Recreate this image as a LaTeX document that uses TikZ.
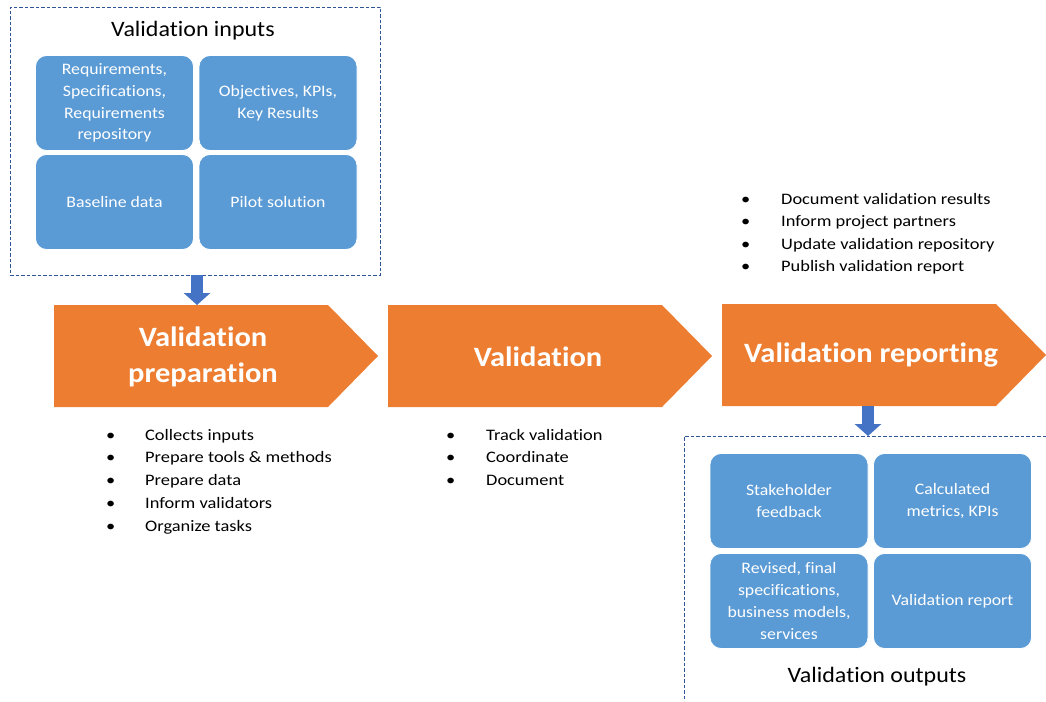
\documentclass[tikz,border=0pt]{standalone}
\usepackage{fontspec}
\setmainfont{Carlito}[Ligatures=NoCommon]
\newfontfamily\listfont{Carlito}[Ligatures=NoCommon, FakeStretch=1.15]
\newfontfamily\tilefont{Carlito}[Ligatures=NoCommon, FakeStretch=1.11]
\newfontfamily\headfont{Carlito}[Ligatures=NoCommon, FakeStretch=1.09]
\newfontfamily\stagefont{Carlito}[Ligatures=NoCommon, FakeStretch=1.09]
\usetikzlibrary{arrows.meta}
\definecolor{stageorange}{HTML}{ED7D31}
\definecolor{tileblue}{HTML}{5B9BD5}
\definecolor{flowblue}{HTML}{4472C4}
\definecolor{frameblue}{HTML}{2F5597}

\begin{document}
\begin{tikzpicture}[x=1pt,y=-1pt,
  tile/.style={fill=tileblue, draw=white, line width=0.8pt, rounded corners=11pt,
    minimum width=158pt, minimum height=95pt, text=white, align=center,
    font=\tilefont\fontsize{16}{21.7}\selectfont, inner sep=0pt},
  frame/.style={draw=frameblue, line width=0.9pt, dash pattern=on 3.5pt off 2pt},
  stage/.style={fill=stageorange},
  stagetext/.style={text=white, font=\stagefont\fontsize{28}{36}\selectfont\bfseries, align=center, inner sep=0pt},
  item/.style={anchor=base west, inner sep=0pt, font=\listfont\fontsize{16}{18}\selectfont},
  heading/.style={font=\headfont\fontsize{22}{26}\selectfont, inner sep=0pt},
  flowarrow/.style={draw=flowblue, line width=12pt, -{Triangle[width=26pt,length=12pt]}}
]
\useasboundingbox (0,0) rectangle (1046,701);

% ---- inputs panel ----
\node[frame, minimum width=370pt, minimum height=268pt, inner sep=0pt] (inframe) at (195,141) {};
\node[heading] (inhead) at (193,31) {Validation inputs};
\node[tile] (req)  at (114.5,103) {Requirements,\\Specifications,\\Requirements\\repository};
\node[tile] (obj)  at (278,103)   {Objectives, KPIs,\\Key Results};
\node[tile] (base) at (114.5,202) {Baseline data};
\node[tile] (pilot) at (278,202)  {Pilot solution};

% ---- process stages ----
\fill[stage] (54,305) -- (328,305) -- (378,356) -- (328,407) -- (54,407) -- cycle;
\node[stagetext] (prep) at (203,357) {Validation\\preparation};
\fill[stage] (388,305) -- (662,305) -- (712,356) -- (662,407) -- (388,407) -- cycle;
\node[stagetext] (valid) at (538,357) {Validation};
\fill[stage] (722,304) -- (996,304) -- (1046,355) -- (996,406) -- (722,406) -- cycle;
\node[stagetext] (report) at (871,355) {Validation reporting};

\coordinate (prepTop) at (197,305);
\coordinate (reportFoot) at (868,406);
\coordinate (outTop) at (868,436);

% ---- outputs panel ----
\draw[frame] (1046,436) -- (684,436) -- (684,701);
\node[tile] (feedback) at (789,501)   {Stakeholder\\feedback};
\node[tile] (metrics)  at (952.5,501) {Calculated\\metrics, KPIs};
\node[tile] (revised)  at (789,601)   {Revised, final\\specifications,\\business models,\\services};
\node[tile] (vreport)  at (952.5,601) {Validation report};
\node[heading] (outhead) at (877,677) {Validation outputs};

% ---- flow arrows ----
\draw[flowarrow] (inframe.south -| prepTop) -- (prepTop);
\draw[flowarrow] (reportFoot) -- (outTop);

% ---- task lists ----
\foreach \t [count=\i] in {Collects inputs, Prepare tools \& methods, Prepare data, Inform validators, Organize tasks}
  \node[item] (prepitem\i) at (106,{440+22.75*(\i-1)}) {\makebox[39pt][l]{•}\t};
\foreach \t [count=\i] in {Track validation, Coordinate, Document}
  \node[item] (validitem\i) at (446,{440+22.75*(\i-1)}) {\makebox[40pt][l]{•}\t};
\foreach \t [count=\i] in {Document validation results, Inform project partners, Update validation repository, Publish validation report}
  \node[item] (reportitem\i) at (741,{204+22.6*(\i-1)}) {\makebox[40pt][l]{•}\t};
\end{tikzpicture}
\end{document}
